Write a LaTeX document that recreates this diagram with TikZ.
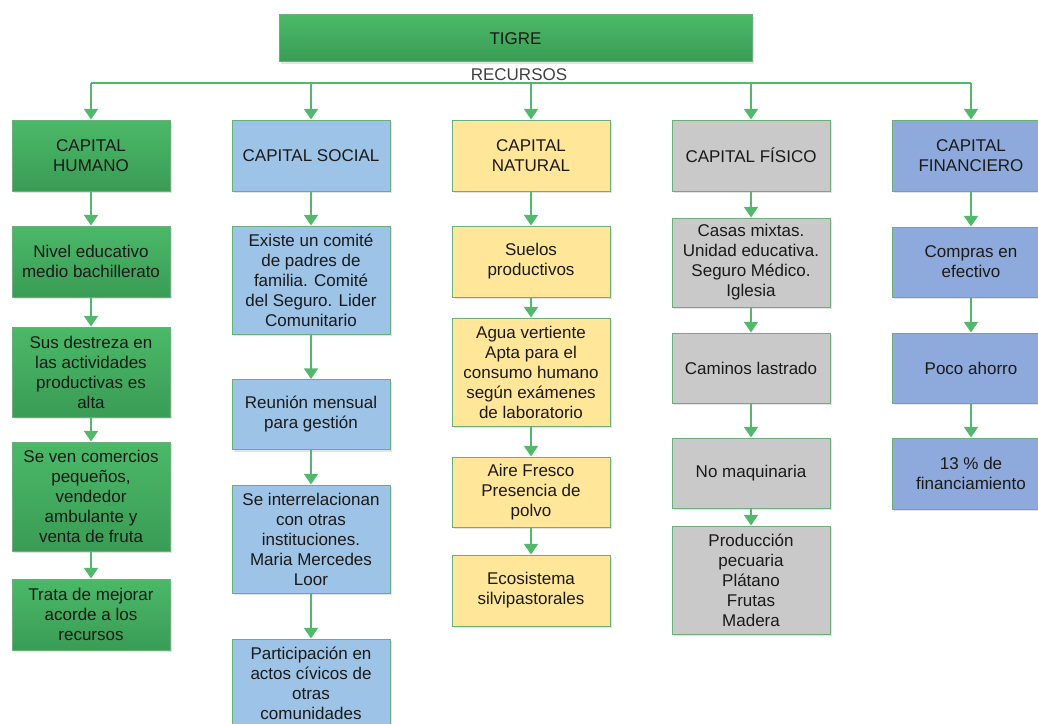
\documentclass[tikz,border=0pt]{standalone}
\usepackage{fontspec}
\setmainfont{Liberation Sans}
\usetikzlibrary{arrows.meta,shadows}

\definecolor{grnA}{HTML}{4BB968}
\definecolor{grnB}{HTML}{3A9C55}
\definecolor{socblue}{HTML}{9DC3E6}
\definecolor{natyellow}{HTML}{FFE699}
\definecolor{fisgray}{HTML}{C9C9C9}
\definecolor{finblue}{HTML}{8EA9DB}
\definecolor{rimgreen}{HTML}{6AAE7B}
\definecolor{arrgreen}{HTML}{52B86C}
\definecolor{inkgray}{HTML}{1A1A1A}

\tikzset{
  box/.style={rectangle, draw=rimgreen, line width=0.75pt, text=inkgray,
    minimum width=158*0.75pt, align=center, inner sep=1pt,
    font=\fontsize{12.75}{15}\selectfont,
    drop shadow={opacity=0.22, shadow xshift=1.5pt, shadow yshift=-1.5pt}},
  boxh/.style={minimum height=#1*0.75pt},
  hum/.style={box, top color=grnA, bottom color=grnB},
  soc/.style={box, fill=socblue},
  nat/.style={box, fill=natyellow},
  fis/.style={box, fill=fisgray},
  fin/.style={box, fill=finblue},
  link/.style={draw=arrgreen, line width=1.5pt},
  arr/.style={link, -{Triangle[width=10.5pt,length=8pt]}}
}

\begin{document}
\begin{tikzpicture}[x=0.75pt,y=-0.75pt]
  \useasboundingbox (0,0) rectangle (1038,724);

  % top
  \node[hum, minimum width=473*0.75pt, boxh=47] (tigre) at (515.5,38.5) {TIGRE};
  \node[text=black!75, font=\fontsize{12.75}{15}\selectfont, inner sep=0pt] (recursos) at (519,75) {RECURSOS};
  \coordinate (bus) at (519,83);

  % capital humano
  \begin{scope}[every node/.style={hum}]
    \node[boxh=71]  (A0) at (91,155.5) {CAPITAL\\HUMANO};
    \node[boxh=71]  (A1) at (91,261.5) {Nivel educativo\\medio bachillerato};
    \node[boxh=90]  (A2) at (91,372)   {Sus destreza en\\las actividades\\productivas es\\alta};
    \node[boxh=109] (A3) at (91,496.5) {Se ven comercios\\pequeños,\\vendedor\\ambulante y\\venta de fruta};
    \node[boxh=71]  (A4) at (91,614.5) {Trata de mejorar\\acorde a los\\recursos};
  \end{scope}

  % capital social
  \begin{scope}[every node/.style={soc}]
    \node[boxh=71]  (B0) at (311,155.5) {CAPITAL SOCIAL};
    \node[boxh=108] (B1) at (311,280)   {Existe un comité\\de padres de\\familia. Comité\\del Seguro. Lider\\Comunitario};
    \node[boxh=70]  (B2) at (311,414.5) {Reunión mensual\\para gestión};
    \node[boxh=108] (B3) at (311,539)   {Se interrelacionan\\con otras\\instituciones.\\Maria Mercedes\\Loor};
    \node[boxh=88]  (B4) at (311,683)   {Participación en\\actos cívicos de\\otras\\comunidades};
  \end{scope}

  % capital natural
  \begin{scope}[every node/.style={nat}]
    \node[boxh=71]  (C0) at (531,155.5) {CAPITAL\\NATURAL};
    \node[boxh=71]  (C1) at (531,261.5) {Suelos\\productivos};
    \node[boxh=108] (C2) at (531,372)   {Agua vertiente\\Apta para el\\consumo humano\\según exámenes\\de laboratorio};
    \node[boxh=70]  (C3) at (531,492)   {Aire Fresco\\Presencia de\\polvo};
    \node[boxh=71]  (C4) at (531,590.5) {Ecosistema\\silvipastorales};
  \end{scope}

  % capital fisico
  \begin{scope}[every node/.style={fis}]
    \node[boxh=71]  (D0) at (751,155.5) {CAPITAL FÍSICO};
    \node[boxh=89]  (D1) at (751,262.5) {Casas mixtas.\\Unidad educativa.\\Seguro Médico.\\Iglesia};
    \node[boxh=70]  (D2) at (751,368)   {Caminos lastrado};
    \node[boxh=70]  (D3) at (751,473)   {No maquinaria};
    \node[boxh=108] (D4) at (751,580)   {Producción\\pecuaria\\Plátano\\Frutas\\Madera};
  \end{scope}

  % capital financiero
  \begin{scope}[every node/.style={fin}]
    \node[boxh=71] (E0) at (971,155.5) {CAPITAL\\FINANCIERO};
    \node[boxh=70] (E1) at (971,262)   {Compras en\\efectivo};
    \node[boxh=70] (E2) at (971,368)   {Poco ahorro};
    \node[boxh=71] (E3) at (971,473.5) {13 \% de\\financiamiento};
  \end{scope}

  % connectors
  \draw[link] (bus -| A0) -- (bus -| E0);
  \begin{scope}[every edge/.style={arr}]
    \path (bus -| A0) edge (A0);
    \path (bus -| B0) edge (B0);
    \path (bus -| C0) edge (C0);
    \path (bus -| D0) edge (D0);
    \path (bus -| E0) edge (E0);
    \path (A0) edge (A1);
    \path (A1) edge (A2);
    \path (A2) edge (A3);
    \path (A3) edge (A4);
    \path (B0) edge (B1);
    \path (B1) edge (B2);
    \path (B2) edge (B3);
    \path (B3) edge (B4);
    \path (C0) edge (C1);
    \path (C1) edge (C2);
    \path (C2) edge (C3);
    \path (C3) edge (C4);
    \path (D0) edge (D1);
    \path (D1) edge (D2);
    \path (D2) edge (D3);
    \path (D3) edge (D4);
    \path (E0) edge (E1);
    \path (E1) edge (E2);
    \path (E2) edge (E3);
  \end{scope}

\end{tikzpicture}
\end{document}
